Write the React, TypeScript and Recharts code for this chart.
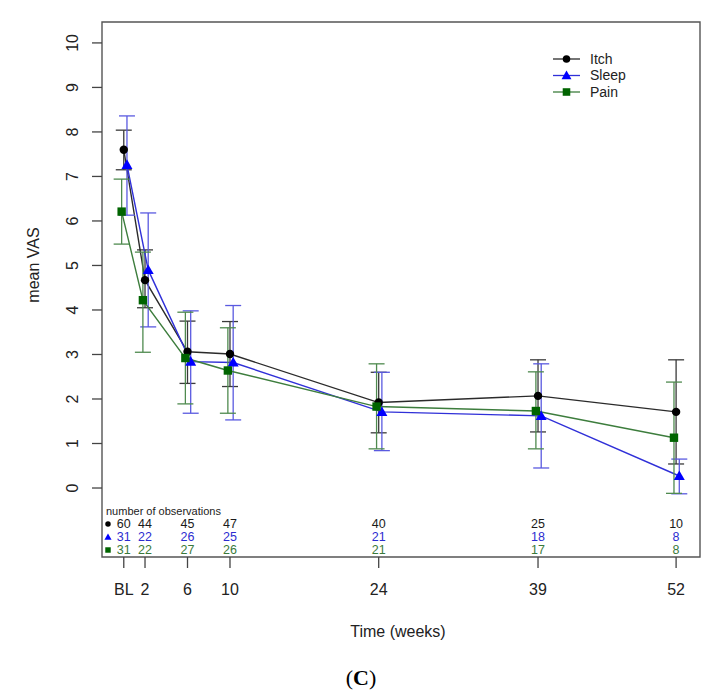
import React from "react";
import {
  ComposedChart,
  Line,
  Scatter,
  XAxis,
  YAxis,
  ErrorBar,
  ReferenceArea,
  Customized,
} from "recharts";

const weeks = [0, 2, 6, 10, 24, 39, 52];
const weekLabels = ["BL", "2", "6", "10", "24", "39", "52"];

const itchMean = [7.6, 4.67, 3.06, 3.01, 1.92, 2.07, 1.71];
const itchLow = [7.15, 4.05, 2.35, 2.28, 1.24, 1.26, 0.54];
const itchHigh = [8.04, 5.35, 3.75, 3.74, 2.6, 2.88, 2.88];

const sleepMean = [7.26, 4.9, 2.84, 2.82, 1.71, 1.62, 0.27];
const sleepLow = [6.13, 3.62, 1.68, 1.53, 0.84, 0.45, -0.13];
const sleepHigh = [8.36, 6.18, 3.98, 4.1, 2.6, 2.79, 0.65];

const painMean = [6.21, 4.22, 2.92, 2.64, 1.83, 1.73, 1.13];
const painLow = [5.48, 3.05, 1.89, 1.68, 0.88, 0.88, -0.12];
const painHigh = [6.94, 5.3, 3.95, 3.6, 2.79, 2.61, 2.38];

const itchN = [60, 44, 45, 47, 40, 25, 10];
const sleepN = [31, 22, 26, 25, 21, 18, 8];
const painN = [31, 22, 27, 26, 21, 17, 8];

const FONT = '"Liberation Sans", Arial, Helvetica, sans-serif';
const X_DOMAIN = [-2.05, 54.25];
const Y_DOMAIN = [-1.55, 10.47];

function build(mean: number[], lo: number[], hi: number[], dodge: number) {
  return weeks.map((w, i) => ({
    x: w + dodge,
    y: mean[i],
    err: [mean[i] - lo[i], hi[i] - mean[i]],
  }));
}

function rows(n: number[], rowY: number) {
  return weeks.map((w, i) => ({ x: w, y: rowY, n: n[i] }));
}

const series = [
  { name: "Itch", data: build(itchMean, itchLow, itchHigh, 0), line: "#2b2b2b", mark: "#000000", err: "#3a3a3a", text: "#1a1a1a", shape: "circle", n: itchN, rowY: -0.81 },
  { name: "Sleep", data: build(sleepMean, sleepLow, sleepHigh, 0.3), line: "#3030d8", mark: "#0000ff", err: "#5a5ae0", text: "#2c2cd0", shape: "triangle", n: sleepN, rowY: -1.1 },
  { name: "Pain", data: build(painMean, painLow, painHigh, -0.2), line: "#3d7d3d", mark: "#006400", err: "#4f8a4f", text: "#3a7a3a", shape: "square", n: painN, rowY: -1.39 },
];

function marker(shape: string, cx: number, cy: number, fill: string, k: string, s = 1) {
  if (shape === "circle") return <circle key={k} cx={cx} cy={cy} r={4.2 * s} fill={fill} />;
  if (shape === "triangle") {
    const h = 5.5 * s;
    return (
      <polygon
        key={k}
        points={`${cx},${cy - h} ${cx - h},${cy + h * 0.75} ${cx + h},${cy + h * 0.75}`}
        fill={fill}
      />
    );
  }
  const a = 4.2 * s;
  return <rect key={k} x={cx - a} y={cy - a} width={2 * a} height={2 * a} fill={fill} />;
}

const YTick = (props: any) => {
  const { x, y, payload } = props;
  return (
    <text
      x={x}
      y={y}
      dy="0.35em"
      transform={`rotate(-90 ${x} ${y})`}
      textAnchor="middle"
      fontSize={16}
      fontFamily={FONT}
      fill="#222"
    >
      {payload.value}
    </text>
  );
};

const Extras = () => (
  <g fontFamily={FONT}>
    <text x={33} y={265} dy="0.35em" transform="rotate(-90 33 265)" textAnchor="middle" fontSize={16} fill="#222">
      mean VAS
    </text>
    <text x={398} y={637} textAnchor="middle" fontSize={16} fill="#222">
      Time (weeks)
    </text>
    <text x={361} y={685} textAnchor="middle" fontSize={22} fontFamily='"Liberation Serif", "DejaVu Serif", serif' fill="#000">
      (<tspan fontWeight="bold">C</tspan>)
    </text>
    <text x={106} y={515} fontSize={11} fill="#222">
      number of observations
    </text>
    {series.map((s, i) => marker(s.shape, 108, 524 + i * 13, s.mark, "rk" + i, 0.65))}
    {series.map((s, i) => (
      <g key={"lg" + i}>
        <line x1={553} x2={580} y1={59 + i * 16.5} y2={59 + i * 16.5} stroke={s.line} strokeWidth={1.3} />
        {marker(s.shape, 566.5, 59 + i * 16.5, s.mark, "lm" + i, 0.9)}
        <text x={590} y={59 + i * 16.5} dy="0.35em" fontSize={14} fill="#222">
          {s.name}
        </text>
      </g>
    ))}
  </g>
);

export default function App() {
  return (
    <div style={{ position: "absolute", left: 0, top: 0, background: "#fff" }}>
      <ComposedChart width={720} height={697} margin={{ top: 22, right: 20, left: 0, bottom: 0 }}>
        <XAxis
          type="number"
          dataKey="x"
          domain={X_DOMAIN}
          ticks={weeks}
          allowDataOverflow
          axisLine={false}
          tickSize={11}
          tickMargin={16}
          tickLine={{ stroke: "#444", strokeWidth: 1.3 }}
          tick={{ fontSize: 16, fill: "#222", fontFamily: FONT }}
          tickFormatter={(v: number) => weekLabels[weeks.indexOf(v)] ?? String(v)}
          height={140}
          interval={0}
        />
        <YAxis
          type="number"
          dataKey="y"
          domain={Y_DOMAIN}
          ticks={[0, 1, 2, 3, 4, 5, 6, 7, 8, 9, 10]}
          allowDataOverflow
          axisLine={false}
          tickSize={10}
          tickMargin={20}
          tickLine={{ stroke: "#444", strokeWidth: 1.3 }}
          tick={<YTick />}
          width={102}
          interval={0}
        />
        <ReferenceArea
          x1={X_DOMAIN[0]}
          x2={X_DOMAIN[1]}
          y1={Y_DOMAIN[0]}
          y2={Y_DOMAIN[1]}
          fill="none"
          stroke="#555"
          strokeWidth={1.4}
          ifOverflow="visible"
        />
        {series.map((s) => (
          <Line
            key={s.name}
            data={s.data}
            dataKey="y"
            name={s.name}
            stroke={s.line}
            strokeWidth={1.4}
            isAnimationActive={false}
            dot={(p: any) => marker(s.shape, p.cx, p.cy, s.mark, s.name + p.index)}
            activeDot={false}
          >
            <ErrorBar dataKey="err" direction="y" width={8} stroke={s.err} strokeWidth={1.3} />
          </Line>
        ))}
        {series.map((s) => (
          <Scatter
            key={"n" + s.name}
            data={rows(s.n, s.rowY)}
            dataKey="y"
            isAnimationActive={false}
            shape={(p: any) => (
              <text
                x={p.cx}
                y={p.cy}
                dy="0.35em"
                textAnchor="middle"
                fontSize={12.5}
                fontFamily={FONT}
                fill={s.text}
              >
                {p.payload.n}
              </text>
            )}
          />
        ))}
        <Customized component={Extras} />
      </ComposedChart>
    </div>
  );
}
